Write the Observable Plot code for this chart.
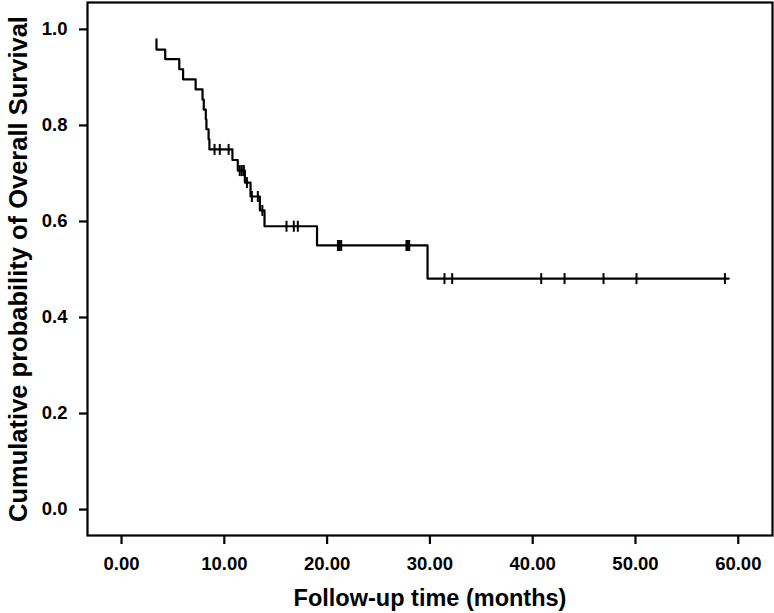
<!DOCTYPE html>
<html>
<head>
<meta charset="utf-8">
<script src="https://cdn.jsdelivr.net/npm/d3@7"></script>
<script src="https://cdn.jsdelivr.net/npm/@observablehq/plot@0.6"></script>
<style>
  html, body { margin: 0; padding: 0; background: #fff; }
</style>
</head>
<body>
<div id="chart"></div>
<script>
// Kaplan–Meier step curve: time (months) and survival after each step
const stepTimes = [3.4, 3.4, 4.25, 5.62, 5.99, 7.21, 7.88, 8.0, 8.2, 8.26, 8.47, 8.55, 10.79, 11.31, 12.0, 12.55, 13.46, 13.91, 19.02, 29.77, 59.07];
const stepSurv  = [0.979, 0.958, 0.938, 0.917, 0.896, 0.875, 0.854, 0.833, 0.8125, 0.792, 0.771, 0.75, 0.728, 0.706, 0.681, 0.652, 0.623, 0.590, 0.550, 0.481, 0.481];

// Censored observations
const censorTimes = [9.05, 9.56, 10.42, 11.5, 11.7, 11.9, 12.2, 12.68, 13.26, 13.7, 16.05, 16.76, 17.15, 21.05, 21.2, 21.37, 27.72, 27.85, 27.99, 31.42, 32.17, 40.83, 43.1, 46.89, 50.1, 58.7];
const censorSurv  = [0.75, 0.75, 0.75, 0.706, 0.706, 0.706, 0.681, 0.652, 0.652, 0.623, 0.590, 0.590, 0.590, 0.550, 0.550, 0.550, 0.550, 0.550, 0.550, 0.481, 0.481, 0.481, 0.481, 0.481, 0.481, 0.481];

const xTicks = [0, 10, 20, 30, 40, 50, 60];
const yTicks = [0, 0.2, 0.4, 0.6, 0.8, 1.0];

const xTitle = "Follow-up time (months)";
const yTitle = "Cumulative probability of Overall Survival";

const curve = stepTimes.map((t, i) => ({t, s: stepSurv[i]}));
const censored = censorTimes.map((t, i) => ({t, s: censorSurv[i]}));

const vtick = {
  draw(context, size) {
    const r = Math.sqrt(size / Math.PI);
    context.moveTo(0, -r);
    context.lineTo(0, r);
  }
};

const chart = Plot.plot({
  width: 774,
  height: 613,
  marginLeft: 87,
  marginRight: 2,
  marginTop: 2,
  marginBottom: 78,
  style: {fontFamily: "'Liberation Sans', Arial, sans-serif", background: "#fff", color: "#000"},
  x: {domain: [-3.31, 63.33]},
  y: {domain: [-0.054, 1.056]},
  marks: [
    Plot.frame({stroke: "#000", strokeWidth: 2.2}),
    Plot.line(curve, {x: "t", y: "s", curve: "step-after", stroke: "#000", strokeWidth: 2.2}),
    Plot.dot(censored, {x: "t", y: "s", symbol: vtick, r: 5.5, stroke: "#000", strokeWidth: 2, fill: "none"}),
    Plot.axisX({ticks: xTicks, tickFormat: d3.format(".2f"), tickSize: 9, tickPadding: 12, fontSize: 18.5, fontWeight: "bold", strokeWidth: 2.2, label: null}),
    Plot.axisY({ticks: yTicks, tickFormat: d3.format(".1f"), tickSize: 8, tickPadding: 12, fontSize: 18.5, fontWeight: "bold", strokeWidth: 2.2, label: null}),
    Plot.text([xTitle], {frameAnchor: "bottom", dy: 63, text: d => d, fontSize: 23.5, fontWeight: "bold", lineAnchor: "middle", textAnchor: "middle", fill: "#000"}),
    Plot.text([yTitle], {frameAnchor: "left", dx: -69, rotate: -90, text: d => d, fontSize: 25.5, fontWeight: "bold", lineAnchor: "middle", textAnchor: "middle", fill: "#000"})
  ]
});

document.getElementById("chart").appendChild(chart);
</script>
</body>
</html>
